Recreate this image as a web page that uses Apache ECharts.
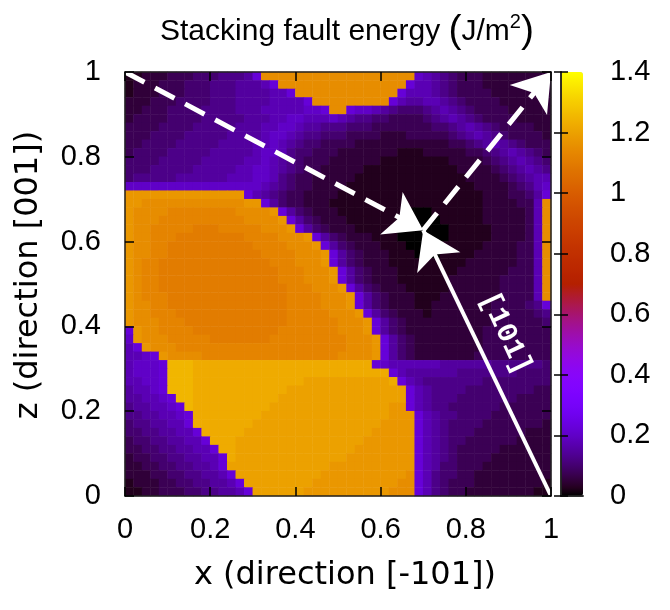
<!DOCTYPE html>
<html>
<head>
<meta charset="utf-8">
<title>Stacking fault energy</title>
<script src="https://cdn.jsdelivr.net/npm/echarts@6/dist/echarts.min.js"></script>
<style>
  html, body { margin: 0; padding: 0; background: #fff; }
  #chart { width: 670px; height: 610px; }
</style>
</head>
<body>
<div id="chart"></div>
<script>
// energy map: 50 x 50 cells of 0.02, rows from z = 1 (top) down to z = 0
// one character per cell, value = index in LEVELS * LEVEL_STEP (J/m^2)
const LEVELS = '0123456789abcdefghijklmnopqrstuvwxyzABCDEFGHIJKLMNOPQRSTUVWXYZ';
const LEVEL_STEP = 0.025;
const energyRows = [
  '1122233344 455569KKKK KKKKKKKKKK KKKK876543 3322222222',
  '1222333444 55566679KK KKKKKKKKKK KKK9776543 3322222222',
  '1222333444 5556666779 KKKKKKKKKK KK97776543 3332222222',
  '2223334444 5556666777 79KKKKKKKK K976677654 3333222222',
  '2233344445 5556667777 7889KK9887 6544456765 4333322222',
  '2333344445 5555666778 8777876554 4333345676 5433332222',
  '3333444455 5556667788 7665554443 3333334456 7654333322',
  '3334444555 5566667887 6554443333 2223333345 6765433332',
  '3344445555 5666677876 5443333222 2222222233 4567654333',
  '3444455555 6666678875 4433322222 2211122222 3345676543',
  '4444555556 6666778765 4333222222 1111111122 2234567654',
  '4445555566 6667788765 4332222211 1111111112 2223456765',
  '4555556666 6677788754 3322222111 1111111111 2222345677',
  '8888888888 8888887654 3322221111 1111111111 1222234578',
  'LLLLLLLLLL LLLL976543 3222211111 1111111111 1122233469',
  'LLKKKKKKKK KKKKLL9643 3222111111 1111111111 112222337K',
  'LKKKKJJJJJ JJJKKKKL96 4322211111 1110001111 112222237K',
  'LKKKJJJJJJ JJJJKKKKL9 6432221111 1100000111 112222237K',
  'LKKJJJJJII IJJJJJKKKL 9643222111 1100000011 111222237K',
  'LKKJJJIIII IIIIJJJJKK KL96432221 1100000011 111222237K',
  'LKKJJIIIII IIIIIJJJJK KKL9643222 1110000111 112222337K',
  'LKKJJIIIII IIIIIIJJJJ KKKL964322 2111000111 122222337K',
  'LKJJIIIIII IIIIIIIJJJ KKKL964322 2111111111 222222337K',
  'LKJJIIIIII IIIIIIIIJJ JKKKL96432 2211111112 222223337K',
  'LKJJIIIIII IIIIIIIIJJ JKKKL96432 2211111122 222233337K',
  'LKJJIIIIII IIIIIIIIIJ JJKKKL9643 2221111122 222233337K',
  'LKJJJIIIII IIIIIIIIIJ JJJKKKL964 3222111222 222233337K',
  'LKKJJIIIII IIIIIIIIIJ JJJKKKL964 3222112222 2223333459',
  'LKKJJJIIII IIIIIIIIIJ JJJJKKKL96 4322212222 2223333345',
  'LKKKJJJIII IIIIIIIIIJ JJJJJKKKL9 6432222222 2223333334',
  '9LKKJJJJII IIIIIIIIJJ JJJJJKKKL9 6432222222 2233333333',
  '8LKKKJJJJJ IIIIIIIJJJ JJJJJJKKKL 9643222222 2233333333',
  '79LKKKJJJJ JJJJJJJJJJ JJJJJJKKKL 9643222222 2233333333',
  '7789LKKKKJ JJJJJJJJJJ JJJJJKKKKL 9643222222 2333333333',
  '78889OOONN NNNNNNNNNN NNNNNNNNN9 8777777666 6665555554',
  '78889OOONN NNNNNNNNNN NNNNNNNNNN N976666665 5555554444',
  '77889OOONN NNNNNNNNNN NMMMMMMMMM MN97655555 5544444444',
  '67789OOONN NNNNNNNNNM MMMMMMMMMM MMM9765555 4444444433',
  '667789OONN NNNNNNNNMM MMMMMMMMMM MMM9765554 4444443333',
  '5667789ONN NNNNNNNMMM MMMMMMMMMM MLL9765544 4444333333',
  '55667789NN NNNNNNMMMM MMMMMMMMMM MLLL976554 4443333333',
  '45566779NN NNNNNMMMMM MMMMMMMMMM LLLL976544 4433333332',
  '445566779N NNNNMMMMMM MMMMMMMMML LLLL976544 4333333222',
  '3445566779 NNNMMMMMMM MMMMMMMMLL LLLL976544 3333332222',
  '3344556677 9NNMMMMMMM MMMMMMMLLL LLLL976543 3333222222',
  '2334455667 79NMMMMMMM MMMMMMLLLL LLLL976543 3332222222',
  '2233445566 79MMMMMMMM MMMMLLLLLL LLLL976443 3322222222',
  '2223344556 679MMMMMMM MMMLLLLLLL LLLK975443 3222222222',
  '1222334455 6679MMMMMM MMLLLLLLLL LLKK975433 3222222221',
  '1122333445 56679MMMMM MLLLLLLLLL LKKK975433 2222222211'
];

const axisTicks = [0, 0.2, 0.4, 0.6, 0.8, 1];
const cbRange = [0, 1.4];
const cbStep = 0.2;

// arrows in (x, z) units
const arrowTip = [0.70, 0.627];
const dashedArrows = [[[0, 1], arrowTip], [arrowTip, [1, 1]]];
const solidArrows = [[[1, 0], arrowTip]];
const dirLabel = { text: '[101]', at: [0.893, 0.384] };

// gnuplot default palette (rgbformulae 7,5,15)
function gnuplotColor(t) {
  const hex = v => Math.round(Math.max(0, Math.min(1, v)) * 255).toString(16).padStart(2, '0');
  return '#' + hex(Math.sqrt(t)) + hex(t * t * t) + hex(Math.sin(2 * Math.PI * t));
}
const palette = [];
for (let i = 0; i <= 56; i++) palette.push(gnuplotColor(i / 56));

const cells = energyRows.map(r => r.replace(/ /g, ''));
const nCols = cells[0].length;
const nRows = cells.length;
const heatData = [];
cells.forEach((row, r) => {
  if (row.length !== nCols) console.error('row ' + r + ' has ' + row.length + ' cells');
  for (let c = 0; c < row.length; c++) {
    heatData.push([c, nRows - 1 - r, LEVELS.indexOf(row[c]) * LEVEL_STEP]);
  }
});
const colIdx = Array.from({ length: nCols }, (_, i) => i);
const rowIdx = Array.from({ length: nRows }, (_, i) => i);

const tickFont = { fontFamily: 'Liberation Sans', fontSize: 29, color: '#000' };
const nameFont = { fontFamily: 'DejaVu Sans', fontSize: 32, color: '#000' };
const frame = { show: true, lineStyle: { color: '#222', width: 1.5 } };
const inTick = len => ({ show: true, inside: true, length: len, lineStyle: { color: '#000', width: 1.5 } });
const noSplit = { show: false };
const titleFont = { fontFamily: 'Liberation Sans', fontWeight: 'normal', color: '#000' };

const chart = echarts.init(document.getElementById('chart'));

chart.setOption({
  animation: false,
  backgroundColor: '#fff',
  title: {
    text: '{t|Stacking fault energy }{p|(}{t|J/m}{s|2}{p|)}',
    left: 155,
    top: 7,
    textStyle: {
      fontWeight: 'normal',
      rich: {
        t: Object.assign({ fontSize: 30 }, titleFont),
        p: Object.assign({ fontSize: 39 }, titleFont),
        s: Object.assign({ fontSize: 20, verticalAlign: 'top', lineHeight: 24 }, titleFont)
      }
    }
  },
  grid: [
    { left: 125, top: 72, width: 426, height: 424 },
    { left: 561, top: 72, width: 22, height: 424 }
  ],
  xAxis: [
    { type: 'category', gridIndex: 0, data: colIdx, show: false },
    {
      type: 'value', gridIndex: 0, position: 'bottom', min: 0, max: 1, interval: 0.2, z: 5,
      axisLine: frame, axisTick: inTick(9), splitLine: noSplit,
      axisLabel: Object.assign({ margin: 19 }, tickFont),
      name: 'x (direction [-101])', nameLocation: 'middle', nameGap: 64,
      nameTextStyle: Object.assign({ padding: [0, 0, 0, 14] }, nameFont)
    },
    {
      type: 'value', gridIndex: 0, position: 'top', min: 0, max: 1, interval: 0.2, z: 5,
      axisLine: frame, axisTick: inTick(9), splitLine: noSplit, axisLabel: { show: false }
    },
    {
      type: 'value', gridIndex: 1, position: 'bottom', min: 0, max: 1, z: 5,
      axisLine: frame, axisTick: { show: false }, splitLine: noSplit, axisLabel: { show: false }
    },
    {
      type: 'value', gridIndex: 1, position: 'top', min: 0, max: 1, z: 5,
      axisLine: frame, axisTick: { show: false }, splitLine: noSplit, axisLabel: { show: false }
    }
  ],
  yAxis: [
    { type: 'category', gridIndex: 0, data: rowIdx, show: false },
    {
      type: 'value', gridIndex: 0, position: 'left', min: 0, max: 1, interval: 0.2, z: 5,
      axisLine: frame, axisTick: inTick(9), splitLine: noSplit,
      axisLabel: Object.assign({ margin: 24 }, tickFont),
      name: 'z (direction [001])', nameLocation: 'middle', nameGap: 80,
      nameTextStyle: Object.assign({ padding: [0, 0, 0, 18] }, nameFont)
    },
    {
      type: 'value', gridIndex: 0, position: 'right', min: 0, max: 1, interval: 0.2, z: 5,
      axisLine: frame, axisTick: inTick(9), splitLine: noSplit, axisLabel: { show: false }
    },
    {
      type: 'value', gridIndex: 1, position: 'right', min: cbRange[0], max: cbRange[1], interval: cbStep, z: 5,
      axisLine: frame, axisTick: inTick(7), splitLine: noSplit,
      axisLabel: Object.assign({ margin: 27, formatter: v => String(Math.round(v * 10) / 10) }, tickFont)
    },
    {
      type: 'value', gridIndex: 1, position: 'left', min: cbRange[0], max: cbRange[1], interval: cbStep, z: 5,
      axisLine: frame, axisTick: inTick(7), splitLine: noSplit, axisLabel: { show: false }
    }
  ],
  visualMap: {
    type: 'continuous',
    seriesIndex: 0,
    dimension: 2,
    min: cbRange[0],
    max: cbRange[1],
    calculable: false,
    hoverLink: false,
    orient: 'vertical',
    left: 561,
    top: 72,
    padding: 0,
    itemWidth: 22,
    itemHeight: 424,
    inRange: { color: palette }
  },
  series: [
    {
      type: 'heatmap',
      xAxisIndex: 0,
      yAxisIndex: 0,
      data: heatData,
      progressive: 0,
      itemStyle: { borderWidth: 0 },
      emphasis: { disabled: true }
    },
    {
      type: 'lines',
      coordinateSystem: 'cartesian2d',
      xAxisIndex: 1,
      yAxisIndex: 1,
      z: 3,
      symbol: ['none', 'arrow'],
      symbolSize: [21, 36],
      symbolOffset: [0, 18],
      lineStyle: { color: '#fff', width: 5, type: [22, 12], opacity: 1 },
      data: dashedArrows.map(a => ({ coords: a }))
    },
    {
      type: 'lines',
      coordinateSystem: 'cartesian2d',
      xAxisIndex: 1,
      yAxisIndex: 1,
      z: 3,
      symbol: ['none', 'arrow'],
      symbolSize: [21, 36],
      symbolOffset: [0, 18],
      lineStyle: { color: '#fff', width: 4, type: 'solid', opacity: 1 },
      data: solidArrows.map(a => ({ coords: a }))
    },
    {
      type: 'scatter',
      xAxisIndex: 1,
      yAxisIndex: 1,
      z: 4,
      symbolSize: 0,
      silent: true,
      itemStyle: { opacity: 1 },
      data: [dirLabel.at],
      label: {
        show: true,
        position: 'inside',
        formatter: dirLabel.text,
        rotate: -65,
        color: '#ffffff',
        opacity: 1,
        textBorderWidth: 0,
        textShadowBlur: 0,
        fontFamily: 'Liberation Mono',
        fontWeight: 'bold',
        fontSize: 29
      }
    }
  ]
});
</script>
</body>
</html>
